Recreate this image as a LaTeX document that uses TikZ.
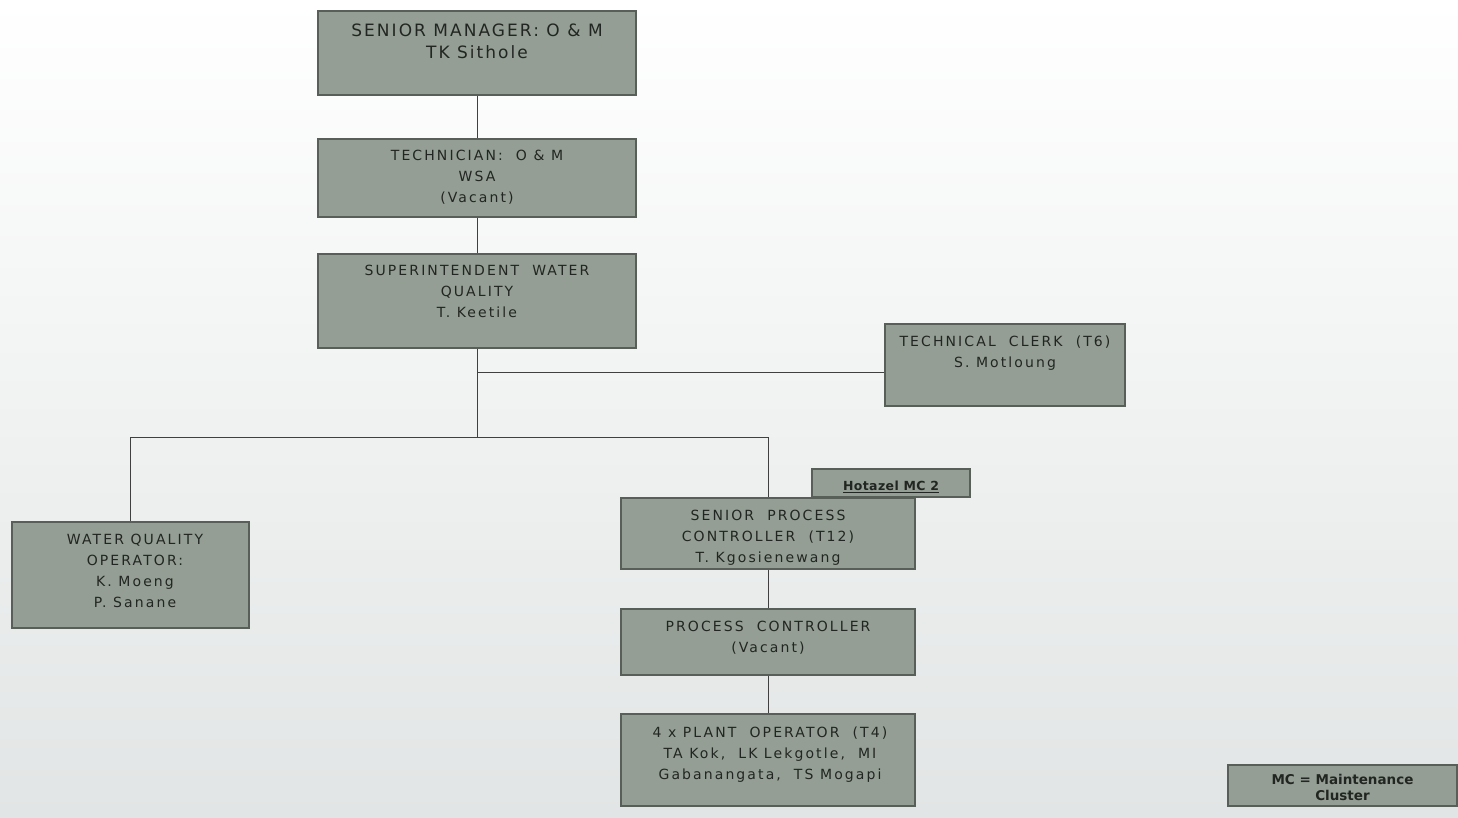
\documentclass[tikz,border=0pt]{standalone}
\usepackage{fontspec}
\setmainfont{DejaVu Sans}
\usetikzlibrary{positioning}
\definecolor{boxfill}{RGB}{148,158,148}
\definecolor{boxline}{RGB}{88,94,88}
\definecolor{txt}{RGB}{34,38,34}
\definecolor{bgbot}{RGB}{226,229,229}
\begin{document}
\begin{tikzpicture}[x=1pt,y=-1pt,
  orgbox/.style={draw=boxline,fill=boxfill,line width=1.3pt,inner sep=0pt},
  lbl/.style={anchor=north,inner sep=0pt,align=center,text=txt,
    font=\fontsize{14}{21}\selectfont\addfontfeature{LetterSpace=15}},
  conn/.style={draw=black!75,line width=1pt}]
\shade[top color=white,bottom color=bgbot] (0,0) rectangle (1458,817);
\useasboundingbox (0,0) rectangle (1458,817);
% boxes
\node[orgbox,minimum width=318,minimum height=84] (sm) at (477,53) {};
\node[orgbox,minimum width=318,minimum height=78] (tech) at (477,178) {};
\node[orgbox,minimum width=318,minimum height=94] (sup) at (477,301) {};
\node[orgbox,minimum width=240,minimum height=82] (clerk) at (1005,365) {};
\node[orgbox,minimum width=237,minimum height=106] (wqo) at (130.5,575) {};
\node[orgbox,minimum width=294,minimum height=71] (spc) at (768,533.5) {};
\node[orgbox,minimum width=158,minimum height=28] (hot) at (891,483) {};
\node[orgbox,minimum width=294,minimum height=66] (pc) at (768,642) {};
\node[orgbox,minimum width=294,minimum height=92] (po) at (768,760) {};
\node[orgbox,minimum width=229,minimum height=41] (mc) at (1342.5,785.5) {};
% labels
\node[lbl,font=\fontsize{17}{22}\selectfont\addfontfeature{LetterSpace=12}] (smt) at (477,23.5) {SENIOR MANAGER: O \& M\\TK Sithole};
\node[lbl] (techt) at (477,150) {TECHNICIAN:\ \ O \& M\\WSA\\(Vacant)};
\node[lbl] (supt) at (477,265) {SUPERINTENDENT\ \ WATER\\QUALITY\\T. Keetile};
\node[lbl] (clerkt) at (1005,336) {TECHNICAL\ \ CLERK\ \ (T6)\\S. Motloung};
\node[lbl] (wqot) at (135,534) {WATER QUALITY\\OPERATOR:\\K. Moeng\\P. Sanane};
\node[lbl] (spct) at (768,510) {SENIOR\ \ PROCESS\\CONTROLLER\ \ (T12)\\T. Kgosienewang};
\node[lbl] (pct) at (768,621) {PROCESS\ \ CONTROLLER\\(Vacant)};
\node[lbl] (pot) at (770,727) {4 x PLANT\ \ OPERATOR\ \ (T4)\\TA Kok,\ \ LK Lekgotle,\ \ MI\\Gabanangata,\ \ TS Mogapi};
\node[inner sep=0pt,text=txt,font=\fontsize{12.5}{12}\selectfont\bfseries\addfontfeature{LetterSpace=3}] (hott) at ([yshift=-4]hot.center) {\underline{Hotazel MC 2}};
\node[inner sep=0pt,align=center,text=txt,font=\fontsize{13.5}{16}\selectfont\bfseries] (mct) at ([yshift=-2]mc.center) {MC = Maintenance\\Cluster};
% connectors
\coordinate (j1) at (477,372);
\coordinate (j2) at (477,437);
\coordinate (jl) at (130,437);
\coordinate (jr) at (768,437);
\draw[conn] (sm.south) -- (tech.north);
\draw[conn] (tech.south) -- (sup.north);
\draw[conn] (sup.south) -- (j2);
\draw[conn] (j1) -- (clerk.west |- j1);
\draw[conn] (jl) -- (jr);
\draw[conn] (jl) -- (wqo.north -| jl);
\draw[conn] (jr) -- (spc.north);
\draw[conn] (spc.south) -- (pc.north);
\draw[conn] (pc.south) -- (po.north);
\end{tikzpicture}
\end{document}
